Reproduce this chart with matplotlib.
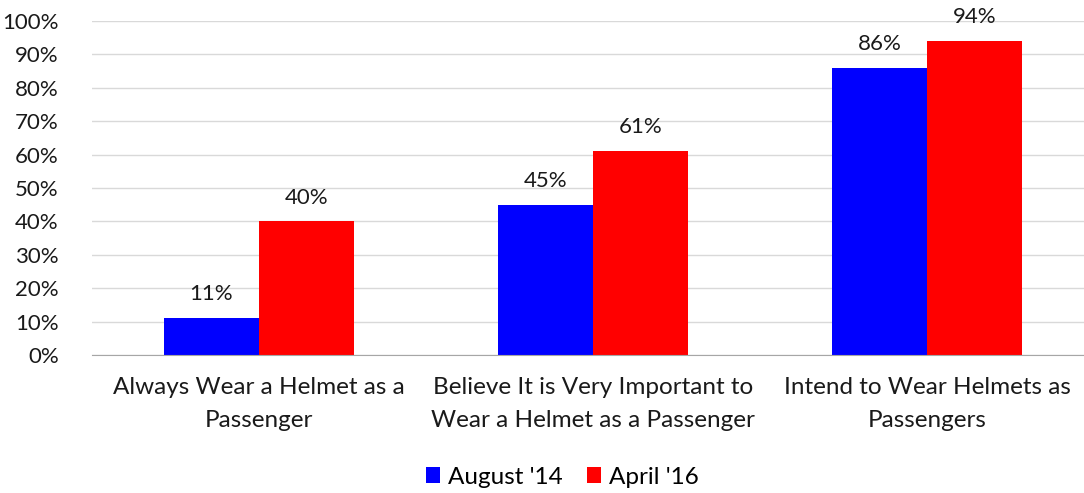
import matplotlib.pyplot as plt
import numpy as np

# Data
categories = ['Always Wear a Helmet as a\nPassenger',
              'Believe It is Very Important to\nWear a Helmet as a Passenger',
              'Intend to Wear Helmets as\nPassengers']
aug14 = [11, 45, 86]
apr16 = [40, 61, 94]
series_names = ["August '14", "April '16"]

plt.rcParams['font.family'] = ['Lato', 'DejaVu Sans']

fig = plt.figure(figsize=(10.84, 4.93), dpi=100)
ax = fig.add_axes([92 / 1084, 1 - 355 / 493, 1002 / 1084, 334 / 493])

x = np.arange(len(categories))
w = 0.2844
b1 = ax.bar(x - w / 2, aug14, w, color='#0000ff', label=series_names[0], zorder=2)
b2 = ax.bar(x + w / 2, apr16, w, color='#ff0000', label=series_names[1], zorder=2)

for bars in (b1, b2):
    for r in bars:
        ax.annotate(f'{r.get_height():.0f}%',
                    (r.get_x() + r.get_width() / 2, r.get_height()),
                    xytext=(0, 10), textcoords='offset points',
                    ha='center', va='bottom', fontsize=16, color='#1a1a1a')

ax.set_xlim(-0.5, 2.5)
ax.set_ylim(0, 100)
ax.set_yticks(range(0, 101, 10))
ax.set_yticklabels([f'{v}%' for v in range(0, 101, 10)], fontsize=16, color='#1a1a1a')
ax.set_xticks(x)
ax.set_xticklabels(categories, fontsize=17.5, color='#1a1a1a', linespacing=1.7)
ax.tick_params(axis='both', length=0)
ax.tick_params(axis='y', pad=24)
ax.tick_params(axis='x', pad=16)

ax.grid(axis='y', color='#d9d9d9', linewidth=1, zorder=0)
for s in ['top', 'right', 'left']:
    ax.spines[s].set_visible(False)
ax.spines['bottom'].set_color('#a6a6a6')
ax.spines['bottom'].set_zorder(3)

fig.legend(loc='center', bbox_to_anchor=(562 / 1084, 1 - 477 / 493), ncol=2,
           frameon=False, fontsize=17.5, handlelength=0.6, handleheight=0.6,
           columnspacing=1.0, handletextpad=0.3)

fig.savefig('out.png', dpi=100)
